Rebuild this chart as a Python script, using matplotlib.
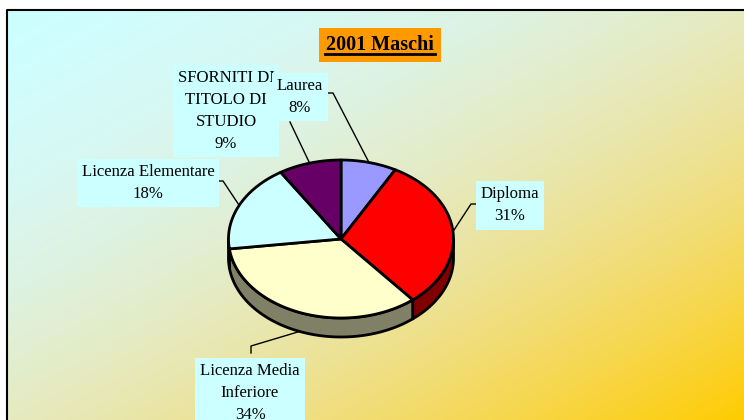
import numpy as np
import matplotlib.pyplot as plt
from matplotlib.patches import Polygon
from matplotlib.colors import to_rgb

plt.rcParams['font.family'] = ['Liberation Serif', 'DejaVu Serif']

# data
categories = ["Laurea", "Diploma", "Licenza Media\nInferiore", "Licenza Elementare",
              "SFORNITI DI\nTITOLO DI\nSTUDIO"]
values = [8, 31, 34, 18, 9]
pct_labels = ["8%", "31%", "34%", "18%", "9%"]
top_colors = ["#9999FF", "#FF0000", "#FFFFCC", "#CCFFFF", "#660066"]
side_colors = ["#4d4d80", "#800000", "#808066", "#668080", "#330033"]

W, H = 744, 420
fig = plt.figure(figsize=(W / 100, H / 100), dpi=100)
ax = fig.add_axes([0, 0, 1, 1])
ax.set_xlim(0, W)
ax.set_ylim(H, 0)
ax.axis('off')

# gradient background of the plot area (cyan -> gold, diagonal)
x0, y0 = 7, 10
gx = np.linspace(0, 1, W - x0)
gy = np.linspace(0, 1, H - y0)
XX, YY = np.meshgrid(gx, gy)
t = (XX + YY) / 2
c0 = np.array(to_rgb("#CCFFFF"))
c1 = np.array(to_rgb("#FFCC00"))
tt = np.stack([t, t ** 1.3, t ** 2], axis=-1)
img = c0 + tt * (c1 - c0)
ax.imshow(img, extent=(x0, W, H, y0), aspect='auto', zorder=0)
ax.plot([x0, x0, W], [H, y0, y0], color='black', lw=1.5, zorder=1)

# 3d pie geometry (pixel space, y down)
cx, cy = 341, 239
rx, ry = 112.5, 79
depth = 19

fr = np.array(values, dtype=float) / sum(values)
edges = np.concatenate([[0], np.cumsum(fr)])
# clockwise from 12 o'clock -> math angle
ang = lambda f: np.pi / 2 - 2 * np.pi * f


def pt(a, dz=0):
    return cx + rx * np.cos(a), cy - ry * np.sin(a) + dz


# side walls (only the front half is visible)
for i in range(len(values)):
    a1, a2 = ang(edges[i]), ang(edges[i + 1])
    aa = np.linspace(a1, a2, 200)
    aa = aa[np.sin(aa) <= 0.001]
    if len(aa) < 2:
        continue
    xs, ys = pt(aa)
    poly = np.vstack([np.column_stack([xs, ys]),
                      np.column_stack([xs[::-1], ys[::-1] + depth])])
    ax.add_patch(Polygon(poly, closed=True, fc=side_colors[i], ec='black',
                         lw=2, joinstyle='round', zorder=2))

# top faces
for i in range(len(values)):
    a1, a2 = ang(edges[i]), ang(edges[i + 1])
    aa = np.linspace(a1, a2, 200)
    xs, ys = pt(aa)
    poly = np.vstack([[cx, cy], np.column_stack([xs, ys])])
    ax.add_patch(Polygon(poly, closed=True, fc=top_colors[i], ec='black',
                         lw=2, joinstyle='round', zorder=3))

# labels: centre of text, elbow points of leader line
label_pos = [(300, 97), (510, 205.5), (250, 393), (148, 183), (226, 111)]
elbows = [[(326, 93), (333, 93)],
          [(478, 204), (471, 204)],
          [(251, 353), (251, 346)],
          [(218, 181), (223, 181)],
          [(290, 122)]]
zs = [7, 6, 6, 6, 5]

for i in range(len(values)):
    mid = ang((edges[i] + edges[i + 1]) / 2)
    ex, ey = pt(mid)
    if np.sin(mid) < -0.5:
        ey += depth
    path = elbows[i] + [(ex, ey)]
    ax.plot([p[0] for p in path], [p[1] for p in path], color='black', lw=1,
            zorder=4)
    ax.text(label_pos[i][0], label_pos[i][1], categories[i] + "\n" + pct_labels[i],
            ha='center', va='center', fontsize=12.1, linespacing=1.5,
            bbox=dict(boxstyle='square,pad=0.3', fc='#CCFFFF', ec='none'),
            zorder=zs[i])

# title
ax.text(380, 45, "2001 Maschi", ha='center', va='center', fontsize=14.5,
        fontweight='bold',
        bbox=dict(boxstyle='square,pad=0.35', fc='#FF9900', ec='none'), zorder=8)
ax.plot([325, 435], [53.5, 53.5], color='black', lw=2, zorder=9)

fig.savefig("out.png", dpi=100)
